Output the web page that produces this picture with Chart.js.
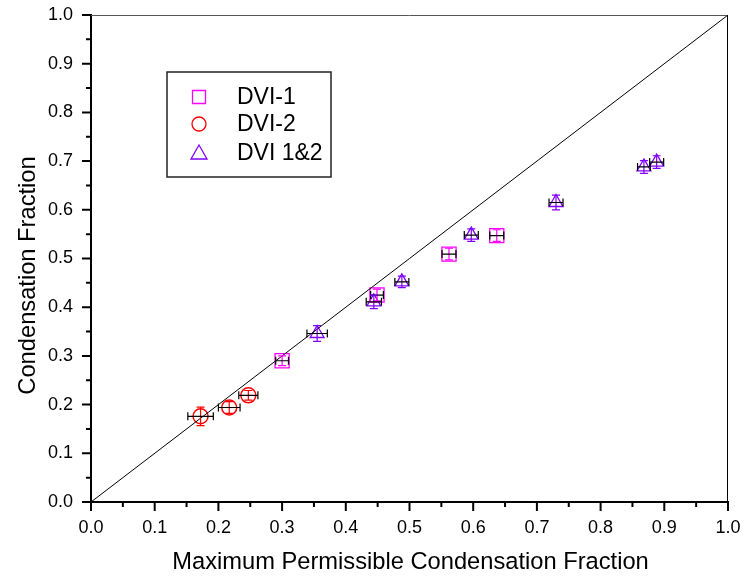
<!DOCTYPE html>
<html>
<head>
<meta charset="utf-8">
<script src="https://cdn.jsdelivr.net/npm/chart.js@4/dist/chart.umd.min.js"></script>
<style>
  html, body { margin: 0; padding: 0; background: #fff; }
  #wrap { width: 744px; height: 583px; position: relative; }
</style>
</head>
<body>
<div id="wrap"><canvas id="c" width="744" height="583"></canvas></div>
<script>
// ---- data ----
const tickValues = [0.0, 0.1, 0.2, 0.3, 0.4, 0.5, 0.6, 0.7, 0.8, 0.9, 1.0];
const seriesNames = ['DVI-1', 'DVI-2', 'DVI 1&2'];
const xTitle = 'Maximum Permissible Condensation Fraction';
const yTitle = 'Condensation Fraction';

const dvi1X    = [0.300, 0.449, 0.562, 0.637];
const dvi1Y    = [0.290, 0.425, 0.509, 0.547];
const dvi1XErr = [0.010, 0.010, 0.011, 0.011];
const dvi1YErr = [0.010, 0.012, 0.012, 0.012];

const dvi2X    = [0.172, 0.217, 0.247];
const dvi2Y    = [0.176, 0.194, 0.219];
const dvi2XErr = [0.020, 0.017, 0.015];
const dvi2YErr = [0.019, 0.012, 0.010];

const dvi12X    = [0.355, 0.444, 0.488, 0.597, 0.730, 0.868, 0.888];
const dvi12Y    = [0.346, 0.411, 0.452, 0.548, 0.615, 0.688, 0.698];
const dvi12XErr = [0.016, 0.012, 0.011, 0.011, 0.011, 0.010, 0.011];
const dvi12YErr = [0.016, 0.014, 0.012, 0.013, 0.015, 0.013, 0.013];

const diagX = [0, 1];
const diagY = [0, 1];

// ---- build datasets ----
function pts(xs, ys, xe, ye) {
  return xs.map((x, i) => ({ x: x, y: ys[i], xErr: xe ? xe[i] : 0, yErr: ye ? ye[i] : 0 }));
}
const FONT = "'Liberation Sans', Arial, Helvetica, sans-serif";
const colors = ['#FF00FF', '#FF0000', '#8000FF'];
const styles = ['rect', 'circle', 'triangle'];
const radii = [10, 7.5, 8];

const datasets = [
  { label: 'diag', data: pts(diagX, diagY), showLine: true, borderColor: '#000', borderWidth: 1,
    pointRadius: 0, fill: false, noErr: true },
  { label: seriesNames[0], data: pts(dvi1X, dvi1Y, dvi1XErr, dvi1YErr), pointStyle: styles[0],
    pointRadius: radii[0], borderColor: colors[0], backgroundColor: 'rgba(0,0,0,0)', pointBorderWidth: 1.3 },
  { label: seriesNames[1], data: pts(dvi2X, dvi2Y, dvi2XErr, dvi2YErr), pointStyle: styles[1],
    pointRadius: radii[1], borderColor: colors[1], backgroundColor: 'rgba(0,0,0,0)', pointBorderWidth: 1.5 },
  { label: seriesNames[2], data: pts(dvi12X, dvi12Y, dvi12XErr, dvi12YErr), pointStyle: styles[2],
    pointRadius: radii[2], borderColor: colors[2], backgroundColor: 'rgba(0,0,0,0)', pointBorderWidth: 1.3 }
];

// ---- plugins ----
const errorBars = {
  id: 'errorBars',
  afterDatasetsDraw(chart) {
    const ctx = chart.ctx, xs = chart.scales.x, ys = chart.scales.y;
    chart.data.datasets.forEach((ds) => {
      if (ds.noErr) return;
      ds.data.forEach(p => {
        const cx = xs.getPixelForValue(p.x), cy = ys.getPixelForValue(p.y);
        ctx.save();
        if (p.yErr) {
          const y1 = ys.getPixelForValue(p.y - p.yErr), y2 = ys.getPixelForValue(p.y + p.yErr);
          ctx.strokeStyle = ds.borderColor; ctx.lineWidth = 1.2;
          ctx.beginPath();
          ctx.moveTo(cx, y1); ctx.lineTo(cx, y2);
          ctx.moveTo(cx - 4, y1); ctx.lineTo(cx + 4, y1);
          ctx.moveTo(cx - 4, y2); ctx.lineTo(cx + 4, y2);
          ctx.stroke();
        }
        if (p.xErr) {
          const x1 = xs.getPixelForValue(p.x - p.xErr), x2 = xs.getPixelForValue(p.x + p.xErr);
          ctx.strokeStyle = '#000'; ctx.lineWidth = 1.2;
          ctx.beginPath();
          ctx.moveTo(x1, cy); ctx.lineTo(x2, cy);
          ctx.moveTo(x1, cy - 4); ctx.lineTo(x1, cy + 4);
          ctx.moveTo(x2, cy - 4); ctx.lineTo(x2, cy + 4);
          ctx.stroke();
        }
        ctx.restore();
      });
    });
  }
};

const frameTicks = {
  id: 'frameTicks',
  afterDraw(chart) {
    const ctx = chart.ctx, a = chart.chartArea, xs = chart.scales.x, ys = chart.scales.y;
    ctx.save();
    ctx.lineWidth = 1;
    ctx.strokeStyle = '#555';
    ctx.beginPath(); ctx.moveTo(a.left, a.top + 0.5); ctx.lineTo(a.right, a.top + 0.5); ctx.stroke();
    ctx.strokeStyle = '#000';
    ctx.beginPath(); ctx.moveTo(a.right - 0.5, a.top); ctx.lineTo(a.right - 0.5, a.bottom); ctx.stroke();
    ctx.lineWidth = 2;
    for (let i = 0; i <= 20; i++) {
      const v = i / 20;
      const len = (i % 2 === 0) ? 9 : 5;
      const px = xs.getPixelForValue(v);
      const py = ys.getPixelForValue(v);
      ctx.beginPath();
      ctx.moveTo(px, a.bottom); ctx.lineTo(px, a.bottom + len);
      ctx.moveTo(a.left, py); ctx.lineTo(a.left - len, py);
      ctx.stroke();
    }
    // axis titles
    ctx.fillStyle = '#000';
    ctx.font = '23.7px ' + FONT;
    ctx.textAlign = 'center';
    ctx.textBaseline = 'middle';
    ctx.fillText(xTitle, (a.left + a.right) / 2 + 1, a.bottom + 60);
    ctx.translate(28, (a.top + a.bottom) / 2 + 17);
    ctx.rotate(-Math.PI / 2);
    ctx.fillText(yTitle, 0, 0);
    ctx.restore();
  }
};

const boxLegend = {
  id: 'boxLegend',
  afterDraw(chart) {
    const ctx = chart.ctx, a = chart.chartArea;
    const bx = a.left + 76, by = a.top + 57, bw = 164, bh = 105;
    ctx.save();
    ctx.fillStyle = '#fff';
    ctx.fillRect(bx, by, bw, bh);
    ctx.strokeStyle = '#222'; ctx.lineWidth = 1.5;
    ctx.strokeRect(bx, by, bw, bh);
    const rows = [by + 25, by + 52, by + 81];
    ctx.font = '23px ' + FONT;
    ctx.textBaseline = 'middle';
    ctx.textAlign = 'left';
    seriesNames.forEach((name, i) => {
      const mx = bx + 32, my = rows[i];
      ctx.strokeStyle = colors[i]; ctx.lineWidth = 1.3;
      ctx.beginPath();
      if (i === 0) { ctx.rect(mx - 6.5, my - 6.5, 13, 13); }
      else if (i === 1) { ctx.arc(mx, my, 7, 0, Math.PI * 2); }
      else { ctx.moveTo(mx, my - 8); ctx.lineTo(mx + 8, my + 6); ctx.lineTo(mx - 8, my + 6); ctx.closePath(); }
      ctx.stroke();
      ctx.fillStyle = '#000';
      ctx.fillText(name, bx + 70, my + 1);
    });
    ctx.restore();
  }
};

function zeroPad(s) { s.paddingTop = 0; s.paddingBottom = 0; s.paddingLeft = 0; s.paddingRight = 0; }

new Chart(document.getElementById('c'), {
  type: 'scatter',
  data: { datasets: datasets },
  options: {
    responsive: false,
    animation: false,
    devicePixelRatio: 1,
    layout: { padding: { top: 15, right: 16, left: 0, bottom: 0 } },
    plugins: { legend: { display: false }, tooltip: { enabled: false } },
    scales: {
      x: {
        type: 'linear', min: 0, max: 1,
        afterFit(s) { s.height = 81; zeroPad(s); },
        afterBuildTicks(s) { s.ticks = tickValues.map(v => ({ value: v })); },
        grid: { display: false, drawTicks: false },
        border: { display: true, color: '#000', width: 2 },
        ticks: { padding: 15, color: '#000', font: { family: FONT, size: 18 },
                 callback: v => Number(v).toFixed(1), maxRotation: 0, autoSkip: false }
      },
      y: {
        type: 'linear', min: 0, max: 1,
        afterFit(s) { s.width = 91; zeroPad(s); },
        afterBuildTicks(s) { s.ticks = tickValues.map(v => ({ value: v })); },
        grid: { display: false, drawTicks: false },
        border: { display: true, color: '#000', width: 2 },
        ticks: { padding: 18, color: '#000', font: { family: FONT, size: 18 },
                 callback: v => Number(v).toFixed(1), autoSkip: false }
      }
    }
  },
  plugins: [errorBars, frameTicks, boxLegend]
});
</script>
</body>
</html>
